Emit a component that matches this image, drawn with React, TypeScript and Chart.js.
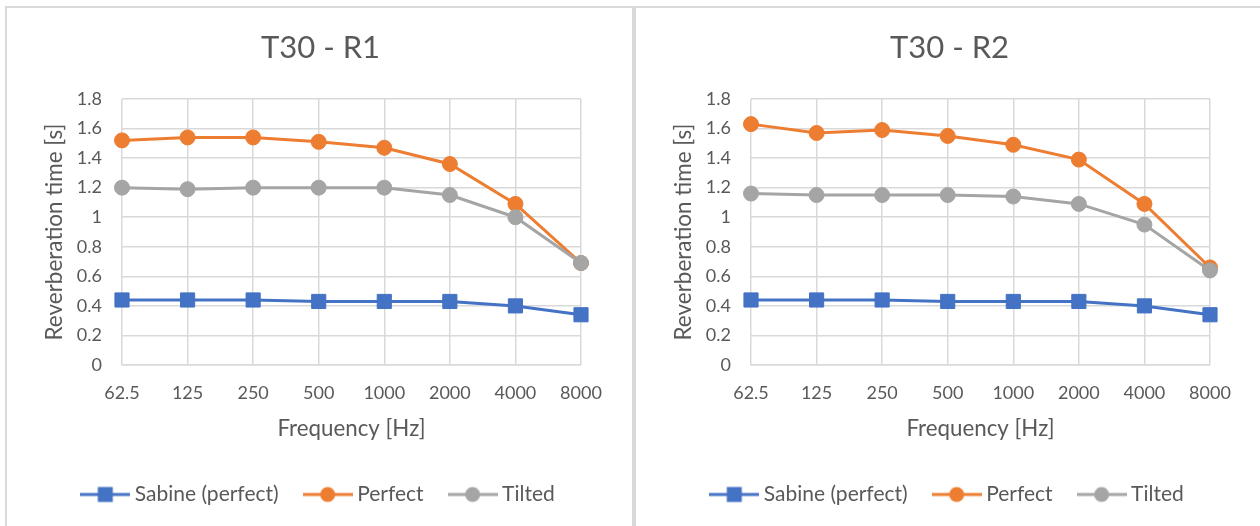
import React, { useEffect, useRef } from 'react';
import { Chart, registerables } from 'chart.js';

Chart.register(...registerables);

// ---- data ----
const frequencyLabels = ['62.5', '125', '250', '500', '1000', '2000', '4000', '8000'];

const r1Sabine = [0.44, 0.44, 0.44, 0.43, 0.43, 0.43, 0.40, 0.34];
const r1Perfect = [1.52, 1.54, 1.54, 1.51, 1.47, 1.36, 1.09, 0.69];
const r1Tilted = [1.20, 1.19, 1.20, 1.20, 1.20, 1.15, 1.00, 0.69];

const r2Sabine = [0.44, 0.44, 0.44, 0.43, 0.43, 0.43, 0.40, 0.34];
const r2Perfect = [1.63, 1.57, 1.59, 1.55, 1.49, 1.39, 1.09, 0.66];
const r2Tilted = [1.16, 1.15, 1.15, 1.15, 1.14, 1.09, 0.95, 0.64];

const seriesNames = ['Sabine (perfect)', 'Perfect', 'Tilted'];
const seriesColors = ['#4472C4', '#ED7D31', '#A5A5A5'];
const seriesMarkers = ['rect', 'circle', 'circle'];

const yMin = 0;
const yMax = 1.8;
const yStep = 0.2;

const TEXT = '#595959';
const GRID = '#d9d9d9';
const FONT = 'Lato, "Open Sans", sans-serif';

function makeLegendIcon(color: string, marker: string): HTMLCanvasElement {
  const c = document.createElement('canvas');
  c.width = 50;
  c.height = 18;
  const ctx = c.getContext('2d')!;
  ctx.strokeStyle = color;
  ctx.lineWidth = 3;
  ctx.beginPath();
  ctx.moveTo(0, 9);
  ctx.lineTo(50, 9);
  ctx.stroke();
  ctx.fillStyle = color;
  if (marker === 'rect') {
    ctx.fillRect(17.5, 1.5, 15, 15);
  } else {
    ctx.beginPath();
    ctx.arc(25, 9, 7.5, 0, Math.PI * 2);
    ctx.fill();
  }
  return c;
}

function buildConfig(title: string, series: number[][]): any {
  const icons = seriesColors.map((c, i) => makeLegendIcon(c, seriesMarkers[i]));
  return {
    type: 'line',
    data: {
      labels: frequencyLabels,
      datasets: series.map((values, i) => ({
        label: seriesNames[i],
        data: values,
        borderColor: seriesColors[i],
        backgroundColor: seriesColors[i],
        borderWidth: 3,
        pointStyle: seriesMarkers[i],
        pointRadius: seriesMarkers[i] === 'rect' ? 10 : 7.5,
        pointBorderWidth: 1,
        pointBackgroundColor: seriesColors[i],
        pointBorderColor: seriesColors[i],
        tension: 0,
        fill: false,
        order: series.length - i,
      })),
    },
    options: {
      responsive: false,
      animation: false,
      layout: { padding: { left: 0, right: 5, top: 0, bottom: 23 } },
      plugins: {
        tooltip: { enabled: false },
        title: {
          display: true,
          text: title,
          color: TEXT,
          font: { family: FONT, size: 31, weight: 'normal' },
          padding: { top: 21.4, bottom: 32.4 },
        },
        legend: {
          display: true,
          position: 'bottom',
          labels: {
            color: TEXT,
            font: { family: FONT, size: 21 },
            usePointStyle: true,
            pointStyleWidth: 38,
            padding: 30,
            sort: (a: any, b: any) => a.datasetIndex - b.datasetIndex,
            generateLabels: (chart: any) => {
              const items = Chart.defaults.plugins.legend.labels.generateLabels(chart);
              return items.map((it: any) => ({ ...it, pointStyle: icons[it.datasetIndex] }));
            },
          },
        },
      },
      scales: {
        x: {
          type: 'category',
          offset: false,
          grid: { display: true, color: GRID, lineWidth: 1.5, drawTicks: false },
          border: { display: true, color: GRID, width: 1.5 },
          ticks: { color: TEXT, font: { family: FONT, size: 18 }, padding: 17, maxRotation: 0, autoSkip: false },
          title: {
            display: true,
            text: 'Frequency [Hz]',
            color: TEXT,
            font: { family: FONT, size: 22.3 },
            padding: { top: 0, bottom: 11.6 },
          },
          afterFit: (s: any) => { s.height = 89; },
        },
        y: {
          type: 'linear',
          position: 'left',
          min: yMin,
          max: yMax,
          grid: { display: true, color: GRID, lineWidth: 1.5, drawTicks: false },
          border: { display: false },
          ticks: {
            stepSize: yStep,
            color: TEXT,
            font: { family: FONT, size: 18 },
            padding: 20,
            callback: (v: any) => String(Math.round(Number(v) * 10) / 10),
          },
          title: {
            display: true,
            text: 'Reverberation time [s]',
            color: TEXT,
            font: { family: FONT, size: 22.5 },
            padding: { top: 34.5, bottom: 0 },
          },
          afterFit: (s: any) => { s.width = 115; },
        },
        yPad: {
          type: 'linear',
          position: 'right',
          display: true,
          grid: { display: false, drawTicks: false },
          border: { display: false },
          ticks: { display: false },
          afterFit: (s: any) => { s.width = 53; },
        },
      },
    },
  };
}

function ChartPanel({ title, series, left, width }: { title: string; series: number[][]; left: number; width: number }) {
  const ref = useRef<HTMLCanvasElement | null>(null);
  useEffect(() => {
    if (!ref.current) return;
    const chart = new Chart(ref.current, buildConfig(title, series));
    return () => chart.destroy();
  }, [title, series]);
  return (
    <div
      style={{
        position: 'absolute',
        left,
        top: 6,
        width,
        height: 560,
        border: `2px solid ${GRID}`,
        boxSizing: 'border-box',
        overflow: 'hidden',
        background: '#fff',
      }}
    >
      <canvas ref={ref} width={632} height={530} style={{ position: 'absolute', left: 0, top: 0, width: 632, height: 530 }} />
    </div>
  );
}

const seriesR1 = [r1Sabine, r1Perfect, r1Tilted];
const seriesR2 = [r2Sabine, r2Perfect, r2Tilted];

export default function App() {
  return (
    <div style={{ position: 'fixed', left: 0, top: 0, width: 1260, height: 526, overflow: 'hidden', background: '#fff' }}>
      <ChartPanel title="T30 - R1" series={seriesR1} left={5} width={629} />
      <ChartPanel title="T30 - R2" series={seriesR2} left={634} width={660} />
    </div>
  );
}
